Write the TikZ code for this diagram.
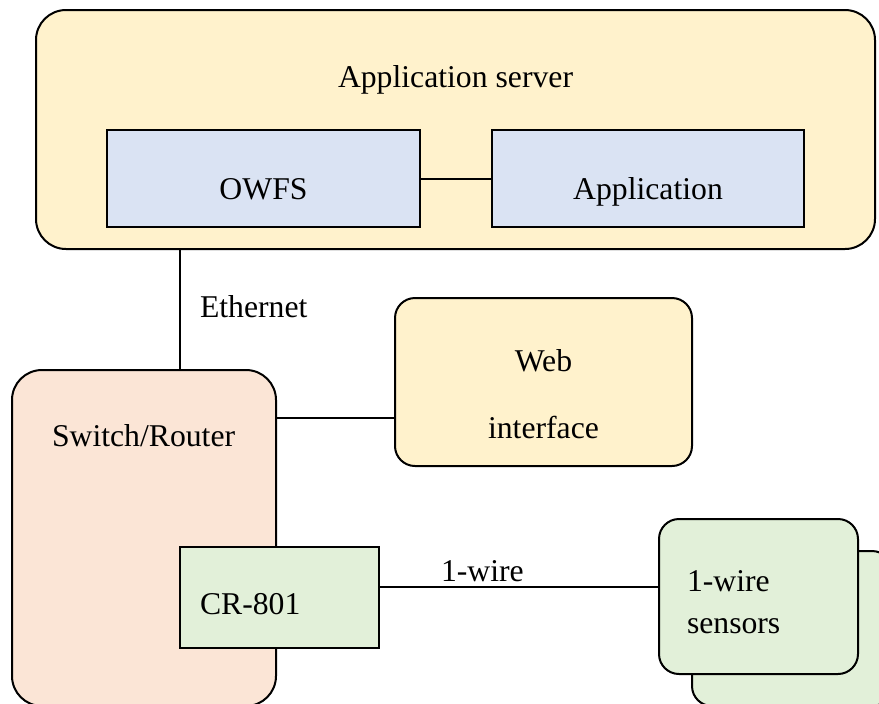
\documentclass[tikz,border=0pt]{standalone}
\usepackage{fontspec}
\setmainfont{Liberation Serif}
\definecolor{cyellow}{HTML}{FFF2CC}
\definecolor{cblue}{HTML}{DAE3F3}
\definecolor{cpink}{HTML}{FBE5D6}
\definecolor{cgreen}{HTML}{E2F0D9}
\tikzset{
  box/.style={draw=black, line width=1pt, inner sep=0pt, outer sep=0pt},
  rbox/.style={box, rounded corners=#1},
  txt/.style={inner sep=0pt, outer sep=0pt, font=\fontsize{15.85}{19}\selectfont},
  wire/.style={draw=black, line width=1pt}
}
\begin{document}
\begin{tikzpicture}[x=0.5pt,y=-0.5pt]
\useasboundingbox (0,0) rectangle (879,703);
% boxes
\node[rbox=15pt, fill=cyellow, minimum width=419.5pt, minimum height=119.5pt] (appsrv) at (455.5,129.5) {};
\node[box, fill=cblue, minimum width=156.5pt, minimum height=48.5pt] (owfs) at (263.5,178.5) {};
\node[box, fill=cblue, minimum width=156pt, minimum height=48.5pt] (app) at (648,178.5) {};
\node[rbox=15pt, fill=cpink, minimum width=132pt, minimum height=168pt] (switch) at (144,538) {};
\node[rbox=10pt, fill=cyellow, minimum width=148.5pt, minimum height=84pt] (web) at (543.5,382) {};
\node[box, fill=cgreen, minimum width=99.5pt, minimum height=50.5pt] (cr) at (279.5,597.5) {};
\node[rbox=10pt, fill=cgreen, minimum width=100pt, minimum height=77.5pt] (sensback) at (792,628.5) {};
\node[rbox=10pt, fill=cgreen, minimum width=99.5pt, minimum height=77.5pt] (sensfront) at (758.5,596.5) {};
% connector coordinates
\coordinate (ethx) at (180,0);
\coordinate (webl) at (0,418);
\coordinate (owl) at (0,587);
% connectors
\draw[wire] (owfs.east) -- (app.west);
\draw[wire] (appsrv.south -| ethx) -- (switch.north -| ethx);
\draw[wire] (switch.east |- webl) -- (web.west |- webl);
\draw[wire] (cr.east |- owl) -- (sensfront.west |- owl);
% texts
\node[txt, anchor=base west] (tapp) at (338,87) {Application server};
\node[txt, anchor=base] (towfs) at (263.5,199) {OWFS};
\node[txt, anchor=base] (tapplic) at (648,199) {Application};
\node[txt, anchor=base west] (teth) at (200,317) {Ethernet};
\node[txt, anchor=base] (tweb) at (543.5,371) {Web};
\node[txt, anchor=base] (tint) at (543.5,438) {interface};
\node[txt, anchor=base west] (tsw) at (52,446) {Switch/Router};
\node[txt, anchor=base west] (tcr) at (200,614) {CR-801};
\node[txt, anchor=base west] (t1w) at (441,581) {1-wire};
\node[txt, anchor=base west] (ts1) at (687,591) {1-wire};
\node[txt, anchor=base west] (ts2) at (687,633) {sensors};
\end{tikzpicture}
\end{document}
